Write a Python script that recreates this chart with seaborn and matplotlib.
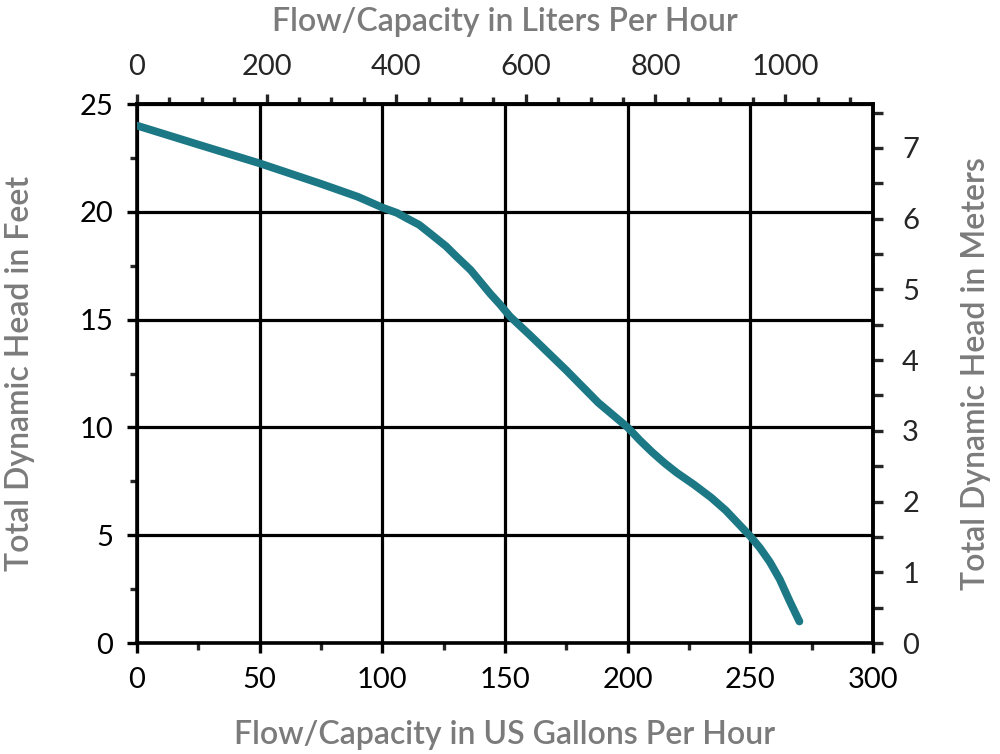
import matplotlib
matplotlib.use("Agg")
import matplotlib.pyplot as plt
import numpy as np
import pandas as pd
import seaborn as sns
from matplotlib.ticker import MultipleLocator

# pump curve
flow_gph = [0, 25, 50, 75, 90, 100, 106, 110, 115, 120, 126, 130, 136, 140, 144, 148, 152,
            160, 175, 188, 200, 205, 210, 215, 220, 227, 234, 240, 245, 250, 254, 258, 262, 266, 270]
head_ft = [24.0, 23.12, 22.25, 21.3, 20.7, 20.2, 19.95, 19.7, 19.4, 18.95, 18.4, 17.95, 17.3, 16.75, 16.2, 15.7, 15.15,
           14.3, 12.65, 11.15, 10.0, 9.4, 8.85, 8.35, 7.9, 7.35, 6.75, 6.15, 5.55, 4.95, 4.4, 3.75, 2.95, 1.95, 1.0]

gal_ticks = [0, 50, 100, 150, 200, 250, 300]
ft_ticks = [0, 5, 10, 15, 20, 25]
liter_ticks = [0, 200, 400, 600, 800, 1000]
meter_ticks = [0, 1, 2, 3, 4, 5, 6, 7]

L_PER_GAL = 3.78541
FT_PER_M = 3.28084

sns.set_style("white")
plt.rcParams['font.family'] = ['Lato', 'DejaVu Sans']

df = pd.DataFrame({'gph': flow_gph, 'ft': head_ft})

fig = plt.figure(figsize=(10, 7.54), dpi=100)
ax = fig.add_axes([0.137, 0.1472, 0.736, 0.7148])

sns.lineplot(data=df, x='gph', y='ft', ax=ax, color='#1b7884', linewidth=5.6,
             solid_capstyle='round', solid_joinstyle='round', zorder=5)

ax.set_xlim(0, 300)
ax.set_ylim(0, 25)
ax.set_xticks(gal_ticks)
ax.set_yticks(ft_ticks)
ax.xaxis.set_minor_locator(MultipleLocator(25))
ax.yaxis.set_minor_locator(MultipleLocator(2.5))
ax.grid(True, which='major', color='black', linewidth=2.3)

for s in ax.spines.values():
    s.set_linewidth(2.6)
    s.set_color('black')

tick_font = 21
lab_font = 23
lab_color = '#7b7b7b'
ax.tick_params(which='major', direction='out', length=7, width=2.4, labelsize=tick_font, pad=10,
               colors='black', bottom=True, left=True, top=False, right=False)
ax.tick_params(which='minor', direction='out', length=5, width=2.4,
               bottom=True, left=True, top=False, right=False)

ax.set_xlabel('Flow/Capacity in US Gallons Per Hour', fontsize=lab_font, color=lab_color,
              fontweight='semibold', labelpad=20)
ax.set_ylabel('Total Dynamic Head in Feet', fontsize=lab_font, color=lab_color,
              fontweight='semibold', labelpad=32)

top = ax.secondary_xaxis('top', functions=(lambda g: g * L_PER_GAL, lambda l: l / L_PER_GAL))
top.set_xticks(liter_ticks)
top.xaxis.set_minor_locator(MultipleLocator(50))
top.tick_params(which='major', direction='out', length=7, width=2.4, labelsize=tick_font, pad=10)
top.tick_params(which='minor', direction='out', length=5, width=2.4)
top.spines['top'].set_linewidth(2.6)
top.set_xlabel('Flow/Capacity in Liters Per Hour', fontsize=lab_font, color=lab_color,
               fontweight='semibold', labelpad=17)

right = ax.secondary_yaxis('right', functions=(lambda f: f / FT_PER_M, lambda m: m * FT_PER_M))
right.set_yticks(meter_ticks)
right.yaxis.set_minor_locator(MultipleLocator(0.5))
right.tick_params(which='major', direction='out', length=7, width=2.4, labelsize=tick_font, pad=14)
right.tick_params(which='minor', direction='out', length=7, width=2.4)
right.spines['right'].set_linewidth(2.6)
right.set_ylabel('Total Dynamic Head in Meters', fontsize=lab_font, color=lab_color,
                 fontweight='semibold', labelpad=30)

fig.savefig('out.png', dpi=100)
